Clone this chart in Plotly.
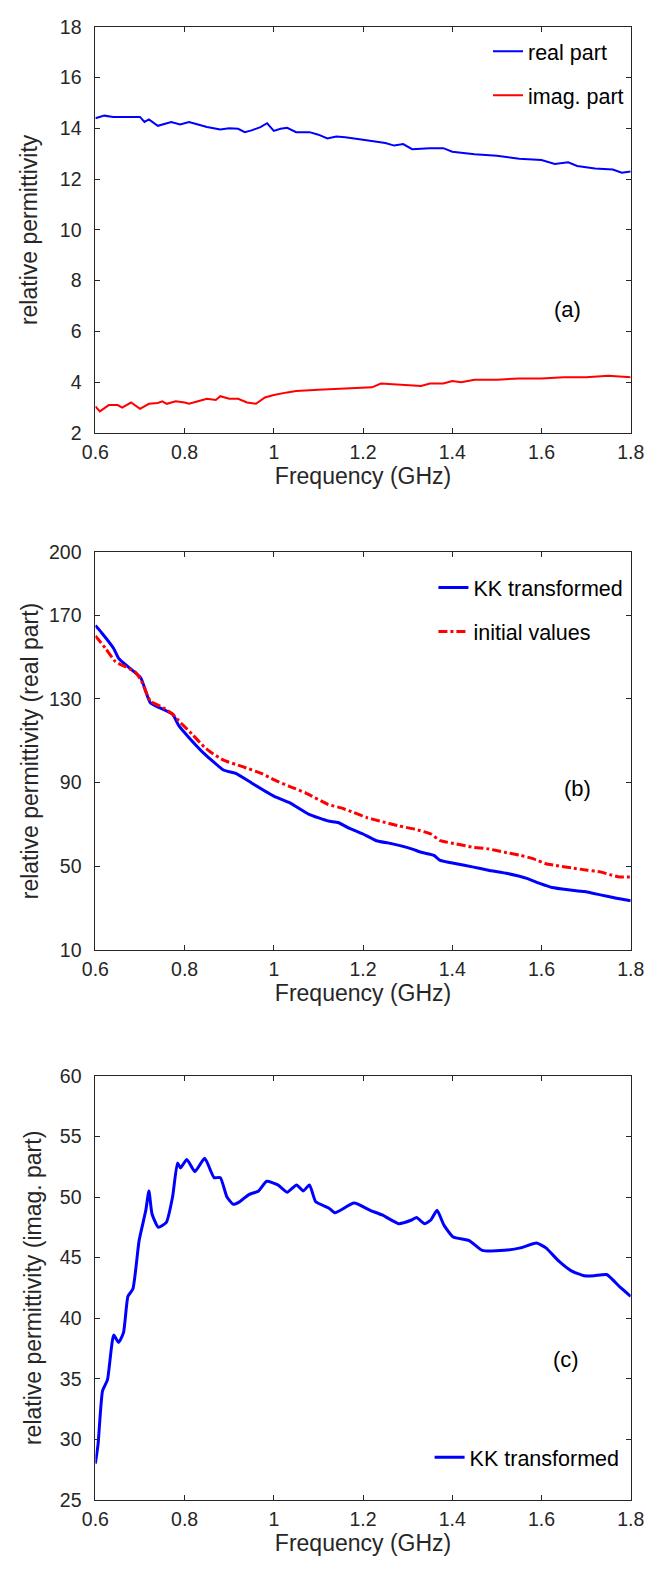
import plotly.graph_objects as go

# ---------------- data ----------------
# (a) measured relative permittivity
fa_real = [0.600, 0.620, 0.640, 0.660, 0.680, 0.700, 0.710, 0.720, 0.740, 0.770, 0.790, 0.810, 0.830, 0.850, 0.880,
           0.900, 0.920, 0.935, 0.950, 0.970, 0.985, 1.000, 1.015, 1.030, 1.050, 1.080, 1.100, 1.120, 1.140, 1.160,
           1.200, 1.250, 1.270, 1.290, 1.310, 1.350, 1.380, 1.400, 1.450, 1.500, 1.550, 1.600, 1.630, 1.660,
           1.680, 1.720, 1.760, 1.780, 1.800]
a_real = [14.40, 14.50, 14.45, 14.45, 14.45, 14.45, 14.25, 14.35, 14.10, 14.25, 14.15, 14.25, 14.15, 14.05, 13.95,
          14.00, 13.98, 13.85, 13.92, 14.05, 14.20, 13.90, 13.98, 14.02, 13.85, 13.85, 13.75, 13.60, 13.68, 13.65,
          13.55, 13.42, 13.32, 13.38, 13.18, 13.22, 13.22, 13.08, 12.98, 12.92, 12.80, 12.75, 12.60, 12.66,
          12.52, 12.42, 12.38, 12.25, 12.30]
fa_imag = [0.600, 0.610, 0.630, 0.650, 0.660, 0.680, 0.700, 0.720, 0.740, 0.750, 0.760, 0.780, 0.800, 0.810, 0.830,
           0.850, 0.870, 0.880, 0.900, 0.920, 0.940, 0.960, 0.980, 1.000, 1.030, 1.050, 1.100, 1.150, 1.200,
           1.220, 1.240, 1.300, 1.330, 1.350, 1.380, 1.400, 1.420, 1.450, 1.500, 1.550, 1.600, 1.650, 1.700,
           1.750, 1.800]
a_imag = [3.05, 2.85, 3.10, 3.10, 3.00, 3.20, 2.95, 3.15, 3.18, 3.25, 3.15, 3.25, 3.20, 3.15, 3.25,
          3.35, 3.30, 3.45, 3.35, 3.35, 3.20, 3.15, 3.40, 3.50, 3.60, 3.65, 3.70, 3.75, 3.80,
          3.80, 3.95, 3.90, 3.85, 3.95, 3.95, 4.05, 4.00, 4.10, 4.10, 4.15, 4.15, 4.20, 4.20,
          4.25, 4.20]

# (b) real part: KK transformed vs initial values
fb_kk = [0.600, 0.613, 0.641, 0.652, 0.677, 0.702, 0.723, 0.773, 0.787, 0.809, 0.844, 0.887, 0.915, 0.951,
         1.001, 1.036, 1.079, 1.122, 1.144, 1.166, 1.200, 1.230, 1.266, 1.309, 1.330, 1.359, 1.373, 1.409,
         1.445, 1.481, 1.524, 1.567, 1.596, 1.624, 1.660, 1.696, 1.732, 1.768, 1.800]
b_kk = [165.0, 161.8, 154.0, 149.3, 144.6, 139.9, 128.1, 122.6, 117.1, 111.6, 103.7, 95.9, 94.3, 89.6,
        83.3, 80.2, 74.7, 71.5, 70.8, 68.4, 65.3, 62.1, 60.6, 58.2, 56.6, 55.1, 52.7, 51.1,
        49.6, 48.0, 46.4, 44.1, 41.7, 39.7, 38.6, 37.8, 36.2, 34.6, 33.4]
fb_init = [0.600, 0.623, 0.645, 0.666, 0.688, 0.702, 0.723, 0.752, 0.773, 0.787, 0.816, 0.844, 0.858, 0.887,
           0.930, 0.972, 1.001, 1.036, 1.072, 1.122, 1.151, 1.180, 1.209, 1.237, 1.280, 1.316, 1.352, 1.373,
           1.409, 1.445, 1.481, 1.517, 1.553, 1.581, 1.610, 1.632, 1.667, 1.703, 1.732, 1.753, 1.775, 1.800]
b_init = [160.0, 154.0, 147.7, 145.4, 143.0, 139.1, 128.9, 125.7, 122.6, 119.4, 113.2, 106.9, 104.5, 100.6,
          97.5, 94.3, 91.2, 88.0, 84.9, 79.4, 77.8, 75.5, 73.1, 71.5, 69.2, 67.6, 65.3, 62.1,
          60.6, 59.0, 58.2, 56.6, 55.1, 53.5, 51.1, 50.3, 49.1, 48.0, 47.2, 45.9, 44.8, 44.8]

# (c) imaginary part: KK transformed
fc = [0.600, 0.606, 0.616, 0.627, 0.641, 0.652, 0.663, 0.673, 0.684, 0.698, 0.713, 0.720, 0.727, 0.741,
      0.759, 0.773, 0.784, 0.791, 0.805, 0.823, 0.845, 0.866, 0.880, 0.895, 0.909, 0.923, 0.944, 0.966,
      0.984, 1.009, 1.030, 1.051, 1.066, 1.080, 1.094, 1.123, 1.137, 1.180, 1.216, 1.244, 1.280, 1.309,
      1.320, 1.338, 1.352, 1.366, 1.381, 1.402, 1.438, 1.467, 1.517, 1.553, 1.589, 1.610, 1.639, 1.667,
      1.696, 1.718, 1.746, 1.775, 1.800]
c_kk = [28.0, 29.6, 34.0, 34.9, 38.6, 38.0, 38.8, 41.8, 42.4, 46.4, 48.9, 50.5, 48.6, 47.5,
        47.9, 50.0, 52.8, 52.4, 53.1, 52.1, 53.2, 51.6, 51.6, 50.0, 49.4, 49.6, 50.2, 50.5,
        51.3, 51.0, 50.4, 51.0, 50.5, 51.0, 49.6, 49.1, 48.7, 49.5, 48.9, 48.5, 47.8, 48.1,
        48.3, 47.8, 48.1, 48.9, 47.7, 46.7, 46.4, 45.6, 45.6, 45.8, 46.2, 45.8, 44.7, 43.9,
        43.5, 43.5, 43.6, 42.6, 41.8]

x_ticks = [0.6, 0.8, 1.0, 1.2, 1.4, 1.6, 1.8]
x_tick_text = ["0.6", "0.8", "1", "1.2", "1.4", "1.6", "1.8"]
ya_ticks = [2, 4, 6, 8, 10, 12, 14, 16, 18]
yb_ticks = [10, 50, 90, 130, 170, 200]
yc_ticks = [25, 30, 35, 40, 45, 50, 55, 60]

# ---------------- figure ----------------
W, H = 660, 1571
BLUE, RED = "#0000ff", "#ff0000"
AX = "#262626"
FONT = "Liberation Sans, Arial, Helvetica, sans-serif"
TICK_SIZE = 19.5
TITLE_SIZE = 23
LEG_SIZE = 21.5

fig = go.Figure()
fig.add_trace(go.Scatter(x=fa_real, y=a_real, mode="lines", name="real part", legendgroup="a1",
                         line=dict(color=BLUE, width=2), xaxis="x", yaxis="y", legend="legend"))
fig.add_trace(go.Scatter(x=fa_imag, y=a_imag, mode="lines", name="imag. part", legendgroup="a2",
                         line=dict(color=RED, width=2), xaxis="x", yaxis="y", legend="legend"))
fig.add_trace(go.Scatter(x=fb_kk, y=b_kk, mode="lines", name="KK transformed", legendgroup="b1",
                         line=dict(color=BLUE, width=3, shape="spline", smoothing=0.4),
                         xaxis="x2", yaxis="y2", legend="legend2"))
fig.add_trace(go.Scatter(x=fb_init, y=b_init, mode="lines", name="initial values", legendgroup="b2",
                         line=dict(color=RED, width=3, dash="9px,3px,3px,3px", shape="spline", smoothing=0.4),
                         xaxis="x2", yaxis="y2", legend="legend2"))
fig.add_trace(go.Scatter(x=fc, y=c_kk, mode="lines", name="KK transformed", legendgroup="c1",
                         line=dict(color=BLUE, width=3, shape="spline", smoothing=0.5),
                         xaxis="x3", yaxis="y3", legend="legend3"))


def px_dom(top, bottom):
    return [1 - bottom / H, 1 - top / H]


xdom = [85 / W, 644 / W]


def xax(anchor):
    return dict(domain=xdom, anchor=anchor, range=[0.6, 1.8], tickvals=x_ticks, ticktext=x_tick_text,
                ticks="inside", ticklen=5, tickcolor=AX, showline=True, linecolor=AX, linewidth=1,
                mirror="ticks", showgrid=False, zeroline=False, ticklabelstandoff=2,
                tickfont=dict(size=TICK_SIZE, color=AX, family=FONT),
                title=dict(text="Frequency (GHz)", font=dict(size=TITLE_SIZE, color=AX, family=FONT),
                           standoff=4))


def yax(anchor, dom, rng, ticks, title, standoff):
    return dict(domain=dom, anchor=anchor, range=rng, tickvals=ticks,
                ticks="inside", ticklen=5, tickcolor=AX, showline=True, linecolor=AX, linewidth=1,
                mirror="ticks", showgrid=False, zeroline=False, ticklabelstandoff=9,
                tickfont=dict(size=TICK_SIZE, color=AX, family=FONT),
                title=dict(text=title, font=dict(size=TITLE_SIZE, color=AX, family=FONT), standoff=standoff))


legend_common = dict(bgcolor="rgba(0,0,0,0)", borderwidth=0, xanchor="left", yanchor="top",
                     font=dict(size=LEG_SIZE, color="#000000", family=FONT), traceorder="grouped",
                     tracegroupgap=13, itemwidth=30)

fig.update_layout(
    width=W, height=H,
    margin=dict(l=0, r=0, t=0, b=0),
    paper_bgcolor="white", plot_bgcolor="white",
    font=dict(family=FONT),
    xaxis=xax("y"),
    yaxis=yax("x", px_dom(16, 428), [2, 18], ya_ticks, "relative permittivity", 15),
    xaxis2=xax("y2"),
    yaxis2=yax("x2", px_dom(549, 952), [10, 200], yb_ticks, "relative permittivity (real part)", 3),
    xaxis3=xax("y3"),
    yaxis3=yax("x3", px_dom(1080, 1510), [25, 60], yc_ticks, "relative permittivity (imag. part)", 11),
    legend=dict(x=495 / W, y=1 - 20 / H, **legend_common),
    legend2=dict(x=438 / W, y=1 - 564 / H, **legend_common),
    legend3=dict(x=434 / W, y=1 - 1446 / H, **legend_common),
    annotations=[
        dict(text="(a)", x=1.658, y=6.85, xref="x", yref="y", showarrow=False,
             font=dict(size=22, color="#000000", family=FONT)),
        dict(text="(b)", x=1.68, y=87.3, xref="x2", yref="y2", showarrow=False,
             font=dict(size=22, color="#000000", family=FONT)),
        dict(text="(c)", x=1.656, y=36.6, xref="x3", yref="y3", showarrow=False,
             font=dict(size=22, color="#000000", family=FONT)),
    ],
)

fig.write_html("out.html")
